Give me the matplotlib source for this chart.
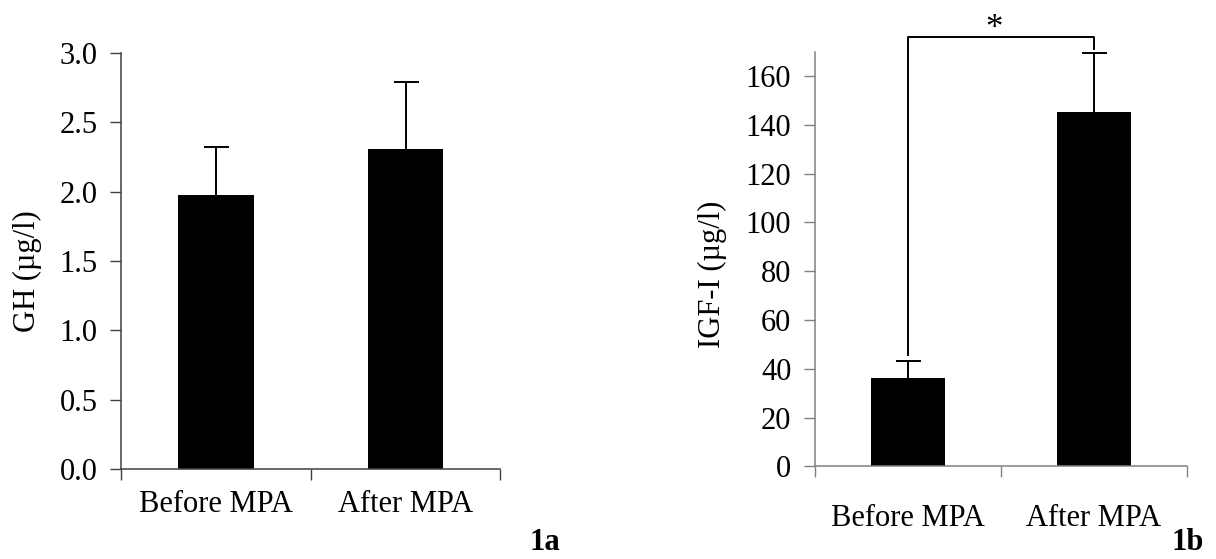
import matplotlib
matplotlib.use('Agg')
import matplotlib.pyplot as plt

# ---------------------
# Data
# ---------------------
categories = ['Before MPA', 'After MPA']
gh_means = [1.98, 2.31]
gh_err = [0.34, 0.48]
igf_means = [36.2, 145.2]
igf_err = [7.1, 24.2]

plt.rcParams['font.family'] = ['Liberation Serif', 'DejaVu Serif']
plt.rcParams['font.size'] = 22

fig = plt.figure(figsize=(12.16, 5.59), dpi=100)

xpos = [0.5, 1.5]


def draw_panel(ax, means, errs, ylim, yticks, fmt, ylabel, spine_col, cat_pad):
    ax.bar(xpos, means, width=0.4, color='black', zorder=2)
    eb = ax.errorbar(xpos, means, yerr=[[0, 0], errs], fmt='none',
                     ecolor='black', elinewidth=1.4, capsize=9, capthick=1.4,
                     zorder=3)
    # only the upper caps are drawn
    eb[1][0].set_visible(False)
    ax.set_xlim(0, 2)
    ax.set_ylim(*ylim)
    ax.set_yticks(yticks)
    ax.set_yticklabels([fmt.format(v) for v in yticks])
    ax.set_xticks([0, 1, 2])
    ax.set_xticklabels([])
    ax.set_xticks(xpos, minor=True)
    ax.set_xticklabels(categories, minor=True)
    ax.tick_params(axis='x', which='minor', length=0, pad=cat_pad)
    ax.tick_params(axis='x', which='major', direction='out', length=8,
                   width=1, color=spine_col)
    ax.tick_params(axis='y', direction='out', length=8, width=1,
                   color=spine_col, pad=9)
    for s in ['top', 'right']:
        ax.spines[s].set_visible(False)
    for s in ['left', 'bottom']:
        ax.spines[s].set_color(spine_col)
        ax.spines[s].set_linewidth(1.1)
    ax.set_ylabel(ylabel)


# GH panel
ax1 = fig.add_axes([0.0995, 0.161, 0.312, 0.744])
draw_panel(ax1, gh_means, gh_err, (0, 3.0), [0, 0.5, 1.0, 1.5, 2.0, 2.5, 3.0],
           '{:.1f}', 'GH (µg/l)', '#404040', 15)
ax1.yaxis.set_label_coords(-0.208, 0.476)

# IGF-I panel
ax2 = fig.add_axes([0.6702, 0.1655, 0.306, 0.742])
draw_panel(ax2, igf_means, igf_err, (0, 170), list(range(0, 161, 20)),
           '{:d}', 'IGF-I (µg/l)', '#808080', 27)
ax2.yaxis.set_label_coords(-0.237, 0.464)

# significance bracket
top1 = igf_means[0] + igf_err[0]
top2 = igf_means[1] + igf_err[1]
br_y = 176
ax2.plot([xpos[0], xpos[0], xpos[1], xpos[1]],
         [top1 + 2.3, br_y, br_y, top2 + 1.8],
         color='black', lw=1.4, clip_on=False, zorder=3)
ax2.text(sum(xpos) / 2 - 0.04, br_y - 3.8, '*', ha='center', va='bottom',
         fontsize=25)

# panel tags
fig.text(529 / 1216, 1 - 557 / 559, '1a', fontweight='bold', fontsize=22,
         ha='left', va='bottom')
fig.text(1204 / 1216, 1 - 557 / 559, '1b', fontweight='bold', fontsize=22,
         ha='right', va='bottom')

fig.savefig('out.png', dpi=100)
